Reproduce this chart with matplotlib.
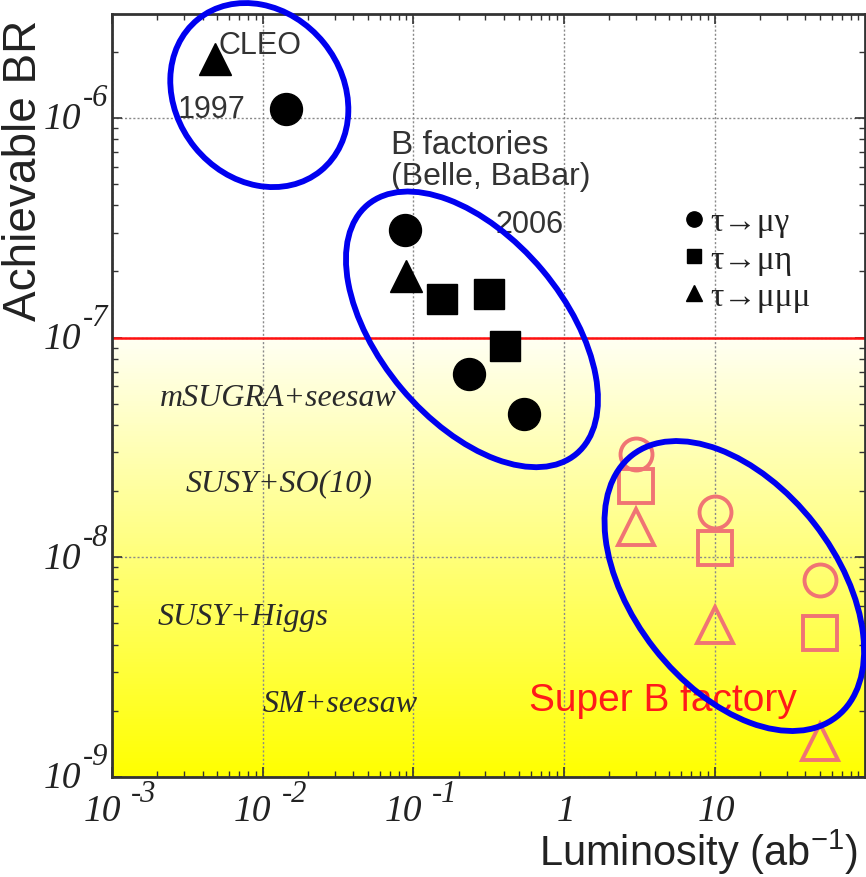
import numpy as np
import matplotlib
matplotlib.use("Agg")
import matplotlib.pyplot as plt
from matplotlib.patches import Ellipse
from matplotlib.lines import Line2D
from matplotlib.ticker import FixedLocator, LogLocator, NullFormatter
from matplotlib.transforms import IdentityTransform, offset_copy

plt.rcParams['mathtext.fontset'] = 'custom'
plt.rcParams['mathtext.rm'] = 'Liberation Sans'
plt.rcParams['mathtext.sf'] = 'Liberation Sans'

# CLEO 1997
cleo_lum_mg = [0.0142]
cleo_br_mg = [1.1e-6]
cleo_lum_mmm = [0.0048]
cleo_br_mmm = [1.85e-6]

# B factories 2006
bf_lum_mg = [0.0877, 0.234, 0.543]
bf_br_mg = [3.1e-7, 6.8e-8, 4.5e-8]
bf_lum_me = [0.155, 0.318, 0.406]
bf_br_me = [1.5e-7, 1.58e-7, 9.2e-8]
bf_lum_mmm = [0.089]
bf_br_mmm = [1.9e-7]

# Super B factory projections
sb_lum = [3, 10, 50]
sb_br_mg = [2.95e-8, 1.6e-8, 7.9e-9]
sb_br_me = [2.1e-8, 1.1e-8, 4.5e-9]
sb_br_mmm = [1.37e-8, 4.9e-9, 1.45e-9]

model_names = ['mSUGRA+seesaw', 'SUSY+SO(10)', 'SUSY+Higgs', 'SM+seesaw']
model_lum = [0.00208, 0.00306, 0.00202, 0.0100]
model_br = [5.35e-8, 2.18e-8, 5.4e-9, 2.15e-9]

legend_labels = ['τ→μγ', 'τ→μη', 'τ→μμμ']

xticks = [1e-3, 1e-2, 1e-1, 1, 10]
yticks = [1e-9, 1e-8, 1e-7, 1e-6]

br_limit = 1e-7
xlim = (1e-3, 99.5)
ylim = (1e-9, 2.97e-6)

W, H = 866, 878
fig = plt.figure(figsize=(W / 100, H / 100), dpi=100)
ax = fig.add_axes([112 / W, 100 / H, 753 / W, 763 / H])
ax.set_xscale('log')
ax.set_yscale('log')
ax.set_xlim(*xlim)
ax.set_ylim(*ylim)

# yellow gradient below the limit line
edges = np.logspace(np.log10(ylim[0]), np.log10(br_limit), 161)
for i in range(len(edges) - 1):
    f = i / (len(edges) - 2)
    ax.axhspan(edges[i], edges[i + 1], color=(1, 1, 0.95 * f), lw=0, zorder=0.1)

ax.axhline(br_limit, color='#ff1010', lw=1.8, zorder=2)

ax.set_axisbelow(True)
ax.grid(True, which='major', color='#8a8a8a', ls=(0, (1.5, 1.5)), lw=1.0)

ink = 'black'
pink = '#f07474'
ax.plot(cleo_lum_mg, cleo_br_mg, 'o', color=ink, ms=23, zorder=5)
ax.plot(cleo_lum_mmm, cleo_br_mmm, '^', color=ink, ms=23, zorder=5)
ax.plot(bf_lum_mg, bf_br_mg, 'o', color=ink, ms=23, zorder=5)
ax.plot(bf_lum_me, bf_br_me, 's', color=ink, ms=22, zorder=5)
ax.plot(bf_lum_mmm, bf_br_mmm, '^', color=ink, ms=23, zorder=5)
ax.plot(sb_lum, sb_br_mg, 'o', mfc='none', mec=pink, mew=2.8, ms=23, zorder=5)
ax.plot(sb_lum, sb_br_me, 's', mfc='none', mec=pink, mew=2.8, ms=24, zorder=5)
ax.plot(sb_lum, sb_br_mmm, '^', mfc='none', mec=pink, mew=2.8, ms=26, zorder=5)

# ticks
ax.xaxis.set_major_locator(FixedLocator(xticks))
ax.yaxis.set_major_locator(FixedLocator(yticks))
ax.xaxis.set_minor_locator(LogLocator(base=10, subs=np.arange(2, 10), numticks=20))
ax.yaxis.set_minor_locator(LogLocator(base=10, subs=np.arange(2, 10), numticks=20))
ax.xaxis.set_minor_formatter(NullFormatter())
ax.yaxis.set_minor_formatter(NullFormatter())
ax.tick_params(which='both', direction='in', top=True, right=True, colors='#333333',
               labelbottom=False, labelleft=False)
ax.tick_params(which='major', length=7, width=1.2)
ax.tick_params(which='minor', length=4, width=1.0)
for s in ax.spines.values():
    s.set_color('#333333')
    s.set_linewidth(2)

sans = ['Liberation Sans', 'DejaVu Sans']
serif = ['Liberation Serif', 'DejaVu Serif']

# tick labels: italic "10" with a big raised exponent
lab = dict(family=serif, style='italic', color='#222222')
xt = ax.get_xaxis_transform()
yt = ax.get_yaxis_transform()
for v in xticks:
    e = int(round(np.log10(v)))
    if e >= 0:
        ax.text(v, 0, str(int(v)), transform=offset_copy(xt, fig, x=2, y=-34, units='dots'),
                ha='center', va='center', fontsize=27, **lab)
    else:
        ax.text(v, 0, '10', transform=offset_copy(xt, fig, x=-10, y=-34, units='dots'),
                ha='center', va='center', fontsize=27, **lab)
        ax.text(v, 0, '-%d' % -e, transform=offset_copy(xt, fig, x=19, y=-17, units='dots'),
                ha='left', va='center', fontsize=22, **lab)
for v in yticks:
    e = int(round(np.log10(v)))
    ax.text(0, v, '10', transform=offset_copy(yt, fig, x=-50, y=-1, units='dots'),
            ha='center', va='center', fontsize=27, **lab)
    ax.text(0, v, '-%d' % -e, transform=offset_copy(yt, fig, x=-29, y=20, units='dots'),
            ha='left', va='center', fontsize=22, **lab)

fig.text(24 / W, 1 - 170 / H, 'Achievable BR', rotation=90, ha='center', va='center',
         family=sans, fontsize=33, color='#222222')
fig.text(858 / W, 1 - 852 / H, r'Luminosity (ab$\mathsf{^{-1}}$)', ha='right', va='center',
         family=sans, fontsize=30, color='#222222')

ax.text(cleo_lum_mmm[0] * 1.06, 2.15e-6, 'CLEO', family=sans, fontsize=22, color='#333333',
        ha='left', va='center')
ax.text(0.00456, 1.1e-6, '1997', family=sans, fontsize=22, color='#333333', ha='center', va='center')
ax.text(0.0708, 7.6e-7, 'B factories', family=sans, fontsize=24, color='#333333', ha='left', va='center')
ax.text(0.0708, 5.45e-7, '(Belle, BaBar)', family=sans, fontsize=23, color='#333333', ha='left', va='center')
ax.text(1.0, 3.3e-7, '2006', family=sans, fontsize=22, color='#333333', ha='right', va='center')
ax.text(4.56, 2.24e-9, 'Super B factory', family=sans, fontsize=28, color='#ff1a1a', ha='center', va='center')

for name, lx, by in zip(model_names, model_lum, model_br):
    ax.text(lx, by, name, family=serif, style='italic', fontsize=23, color='#2a2a2a',
            ha='left', va='center')

handles = [Line2D([], [], ls='none', marker=m, color='k', ms=ms)
           for m, ms in zip(['o', 's', '^'], [11, 10, 11])]
leg = ax.legend(handles, legend_labels, loc='upper left',
                bbox_to_anchor=((685 - 112) / 753, (778 - 208) / 763),
                frameon=False, prop={'family': serif, 'size': 24}, borderpad=0,
                borderaxespad=0, handlelength=0.55, handletextpad=0.2, labelspacing=0.2)
for t in leg.get_texts():
    t.set_color('#222222')

# blue ellipses drawn around the three generations of measurements (pixel sized)
ell = [((0.0095, 1.27e-6), 195, 166, 129),
       ((0.245, 1.09e-7), 325, 184, 130),
       ((13.5, 7.4e-9), 332, 203, 128)]
for (cx, cy), w, h, ang in ell:
    px, py = ax.transData.transform((cx, cy))
    e = Ellipse((px, py), w, h, angle=ang, transform=IdentityTransform(), fill=False,
                ec='#0000f0', lw=4.2, clip_on=False, zorder=10)
    ax.add_patch(e)

fig.savefig('out.png', dpi=100)
